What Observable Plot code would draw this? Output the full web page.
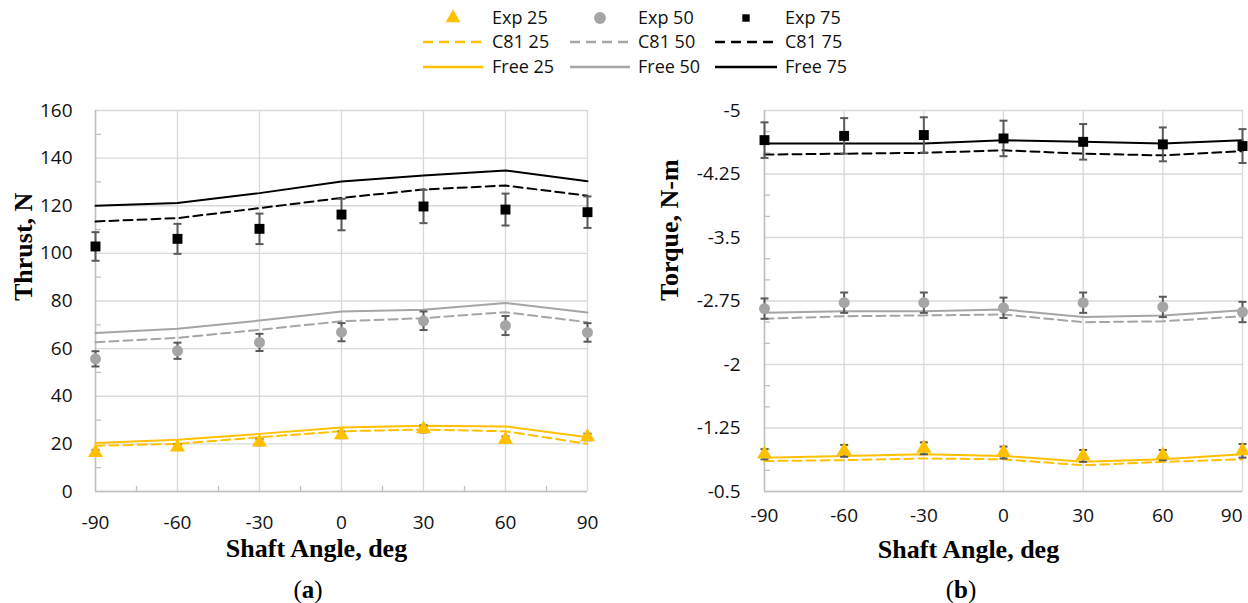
<!DOCTYPE html>
<html><head><meta charset="utf-8">
<script src="https://cdn.jsdelivr.net/npm/d3@7"></script>
<script src="https://cdn.jsdelivr.net/npm/@observablehq/plot@0.6"></script>
<style>
html,body{margin:0;padding:0;background:#fff;overflow:hidden;}
#root{position:relative;width:1248px;height:603px;overflow:hidden;}
#legend{position:absolute;left:0;top:0;}
#left{position:absolute;left:0;top:90px;}
#right{position:absolute;left:640px;top:90px;}
.cap{position:absolute;top:575px;font-family:"Liberation Serif",serif;font-size:25px;line-height:30px;transform:translateX(-50%);color:#000;}
</style></head><body>
<div id="root">
  <div id="legend"></div>
  <div id="left"></div>
  <div id="right"></div>
  <div class="cap" style="left:308px">(<b>a</b>)</div>
  <div class="cap" style="left:961px">(<b>b</b>)</div>
</div>
<script>
// ---- data ----
const angles = [-90, -60, -30, 0, 30, 60, 90];
const angleMinor = [-75, -45, -15, 15, 45, 75];

// Thrust (N)
const thrustExp25 = [16.3, 18.6, 20.7, 23.8, 26.3, 21.8, 22.9];
const thrustExp25Err = [1.2, 1.2, 1.3, 1.4, 1.5, 1.3, 1.4];
const thrustExp50 = [55.7, 59.1, 62.6, 66.9, 71.7, 69.7, 66.8];
const thrustExp50Err = [3.2, 3.4, 3.6, 3.8, 3.9, 4.0, 3.9];
const thrustExp75 = [102.9, 106.1, 110.3, 116.3, 119.7, 118.4, 117.3];
const thrustExp75Err = [6.0, 6.3, 6.4, 6.6, 7.0, 6.7, 6.6];
const thrustC81_25 = [19.2, 20.0, 22.8, 25.3, 26.0, 25.3, 20.0];
const thrustC81_50 = [62.7, 64.5, 67.9, 71.5, 72.8, 75.3, 71.1];
const thrustC81_75 = [113.4, 114.8, 119.0, 123.3, 126.8, 128.5, 124.2];
const thrustFree25 = [20.4, 21.7, 24.2, 26.9, 27.6, 27.3, 22.8];
const thrustFree50 = [66.6, 68.3, 71.8, 75.6, 76.3, 79.2, 75.2];
const thrustFree75 = [120.0, 121.2, 125.3, 130.2, 132.7, 134.8, 130.3];
const thrustTicks = [0, 20, 40, 60, 80, 100, 120, 140, 160];
const thrustMinor = [10, 30, 50, 70, 90, 110, 130, 150];

// Torque (N-m)
const torqueExp25 = [-0.94, -0.98, -1.01, -0.96, -0.92, -0.93, -0.98];
const torqueExp25Err = [0.06, 0.07, 0.07, 0.07, 0.07, 0.06, 0.08];
const torqueExp50 = [-2.66, -2.73, -2.73, -2.67, -2.73, -2.68, -2.62];
const torqueExp50Err = [0.12, 0.12, 0.12, 0.12, 0.12, 0.12, 0.12];
const torqueExp75 = [-4.65, -4.70, -4.71, -4.67, -4.63, -4.60, -4.58];
const torqueExp75Err = [0.21, 0.21, 0.21, 0.21, 0.21, 0.20, 0.20];
const torqueC81_25 = [-0.86, -0.87, -0.89, -0.88, -0.81, -0.85, -0.88];
const torqueC81_50 = [-2.54, -2.57, -2.58, -2.59, -2.50, -2.51, -2.57];
const torqueC81_75 = [-4.48, -4.49, -4.50, -4.53, -4.49, -4.47, -4.52];
const torqueFree25 = [-0.90, -0.92, -0.94, -0.92, -0.85, -0.88, -0.94];
const torqueFree50 = [-2.61, -2.63, -2.63, -2.65, -2.56, -2.58, -2.64];
const torqueFree75 = [-4.61, -4.61, -4.61, -4.65, -4.63, -4.61, -4.65];
const torqueTicks = [-5, -4.25, -3.5, -2.75, -2, -1.25, -0.5];
const torqueMinor = [-4.75, -4.5, -4, -3.75, -3.25, -3, -2.5, -2.25, -1.75, -1.5, -1, -0.75];

const seriesNames = ["25", "50", "75"];

// ---- styles ----
const colors = ["#FFC000", "#A5A5A5", "#000000"];
const symbols = [d3.symbolTriangle, d3.symbolCircle, d3.symbolSquare];
const symR = [5.6, 5.5, 5.6];
const gridColor = "#D9D9D9";
const axisColor = "#BFBFBF";
const errColor = "#595959";
const dash = "9,5";
const sans = '"Open Sans", sans-serif';
const serif = '"Liberation Serif", "Times New Roman", serif';

const rows = (vals, errs) => angles.map((a, i) => ({a, v: vals[i], e: errs ? errs[i] : 0}));
const capSymbol = {draw(ctx, size) { const h = Math.sqrt(size / Math.PI); ctx.moveTo(-h, 0); ctx.lineTo(h, 0); }};
const tickShape = {draw(ctx, l) { ctx.moveTo(0, 0); ctx.lineTo(0, -l); }};

function seriesMarks(exp, err, c81, free) {
  const m = [];
  for (let k = 0; k < 3; k++) {
    m.push(Plot.line(rows(c81[k]), {x: "a", y: "v", stroke: colors[k], strokeWidth: 2, strokeDasharray: dash}));
    m.push(Plot.line(rows(free[k]), {x: "a", y: "v", stroke: colors[k], strokeWidth: 2}));
  }
  for (let k = 0; k < 3; k++) {
    const d = rows(exp[k], err[k]);
    m.push(Plot.ruleX(d, {x: "a", y1: r => r.v - r.e, y2: r => r.v + r.e, stroke: errColor, strokeWidth: 2}));
    m.push(Plot.dot(d, {x: "a", y: r => r.v + r.e, symbol: capSymbol, r: 4, stroke: errColor, strokeWidth: 2, fill: "none"}));
    m.push(Plot.dot(d, {x: "a", y: r => r.v - r.e, symbol: capSymbol, r: 4, stroke: errColor, strokeWidth: 2, fill: "none"}));
    m.push(Plot.dot(d, {x: "a", y: "v", symbol: symbols[k], r: symR[k], fill: colors[k], stroke: "none"}));
  }
  return m;
}

const commonStyle = {fontFamily: sans, fontSize: "19px", color: "#111", background: "transparent", overflow: "visible"};
const fmt = d => String(d);

// ---- left chart ----
const left = Plot.plot({
  width: 620, height: 500,
  marginLeft: 95, marginRight: 33, marginTop: 20, marginBottom: 99,
  x: {domain: [angles[0], angles[angles.length - 1]]},
  y: {domain: [thrustTicks[0], thrustTicks[thrustTicks.length - 1]]},
  style: commonStyle,
  marks: [
    Plot.gridY(thrustTicks, {stroke: gridColor, strokeOpacity: 1, strokeWidth: 1.3}),
    Plot.gridX(angles, {stroke: gridColor, strokeOpacity: 1, strokeWidth: 1.3}),
    Plot.ruleX([angles[0]], {stroke: axisColor, strokeWidth: 1.5}),
    Plot.ruleY([thrustTicks[0]], {stroke: axisColor, strokeWidth: 1.5}),
    Plot.vector(thrustMinor, {x: () => angles[0], y: d => d, length: 5, rotate: 90, anchor: "start", shape: tickShape, stroke: axisColor, strokeWidth: 1.3}),
    Plot.vector(angleMinor, {x: d => d, y: () => thrustTicks[0], length: 5, rotate: 0, anchor: "start", shape: tickShape, stroke: axisColor, strokeWidth: 1.3}),
    Plot.axisY(thrustTicks, {tickSize: 0, tickPadding: 23, tickFormat: fmt, label: null, fontSize: 19}),
    Plot.axisX(angles, {tickSize: 0, tickPadding: 24, tickFormat: fmt, label: null, fontSize: 19}),
    ...seriesMarks([thrustExp25, thrustExp50, thrustExp75], [thrustExp25Err, thrustExp50Err, thrustExp75Err],
                   [thrustC81_25, thrustC81_50, thrustC81_75], [thrustFree25, thrustFree50, thrustFree75]),
    Plot.text(["Thrust, N"], {frameAnchor: "left", rotate: -90, dx: -72, fontFamily: serif, fontWeight: "bold", fontSize: 26, fill: "#000"}),
    Plot.text(["Shaft Angle, deg"], {frameAnchor: "bottom", dy: 57, dx: -25, lineAnchor: "middle", fontFamily: serif, fontWeight: "bold", fontSize: 26, fill: "#000"})
  ]
});
document.getElementById("left").append(left);

// ---- right chart ----
const right = Plot.plot({
  width: 608, height: 500,
  marginLeft: 124, marginRight: 6, marginTop: 20, marginBottom: 99,
  x: {domain: [angles[0], angles[angles.length - 1]]},
  y: {domain: [torqueTicks[torqueTicks.length - 1], torqueTicks[0]]},
  style: commonStyle,
  marks: [
    Plot.gridY(torqueTicks, {stroke: gridColor, strokeOpacity: 1, strokeWidth: 1.3}),
    Plot.gridX(angles, {stroke: gridColor, strokeOpacity: 1, strokeWidth: 1.3}),
    Plot.ruleX([angles[0]], {stroke: axisColor, strokeWidth: 1.5}),
    Plot.ruleY([torqueTicks[torqueTicks.length - 1]], {stroke: axisColor, strokeWidth: 1.5}),
    Plot.vector(torqueMinor, {x: () => angles[0], y: d => d, length: 5, rotate: 90, anchor: "start", shape: tickShape, stroke: axisColor, strokeWidth: 1.3}),
    Plot.axisY(torqueTicks, {tickSize: 0, tickPadding: 24, tickFormat: fmt, label: null, fontSize: 19}),
    Plot.axisX(angles.slice(0, -1), {tickSize: 0, tickPadding: 17, tickFormat: fmt, label: null, fontSize: 19}),
    Plot.axisX(angles.slice(-1), {tickSize: 0, tickPadding: 17, tickFormat: fmt, label: null, fontSize: 19, textAnchor: "end"}),
    ...seriesMarks([torqueExp25, torqueExp50, torqueExp75], [torqueExp25Err, torqueExp50Err, torqueExp75Err],
                   [torqueC81_25, torqueC81_50, torqueC81_75], [torqueFree25, torqueFree50, torqueFree75]),
    Plot.text(["Torque, N-m"], {frameAnchor: "left", rotate: -90, dx: -95, fontFamily: serif, fontWeight: "bold", fontSize: 26, fill: "#000"}),
    Plot.text(["Shaft Angle, deg"], {frameAnchor: "bottom", dy: 58, dx: -35, lineAnchor: "middle", fontFamily: serif, fontWeight: "bold", fontSize: 26, fill: "#000"})
  ]
});
document.getElementById("right").append(right);

// ---- legend ----
const lg = d3.select("#legend").append("svg").attr("width", 1248).attr("height", 85)
  .style("font-family", sans).style("font-size", "18px");
const cols = [{x0: 423, x1: 483, tx: 492}, {x0: 570, x1: 630, tx: 638}, {x0: 715, x1: 777, tx: 785}];
const rowY = [18, 42, 67];
const legSize = [95, 110, 55];
cols.forEach((c, k) => {
  const mid = (c.x0 + c.x1) / 2;
  lg.append("path").attr("d", d3.symbol().type(symbols[k]).size(legSize[k])())
    .attr("transform", `translate(${mid},${rowY[0]})`).attr("fill", colors[k]);
  lg.append("line").attr("x1", c.x0).attr("x2", c.x1).attr("y1", rowY[1]).attr("y2", rowY[1])
    .attr("stroke", colors[k]).attr("stroke-width", 2.5).attr("stroke-dasharray", "10,6");
  lg.append("line").attr("x1", c.x0).attr("x2", c.x1).attr("y1", rowY[2]).attr("y2", rowY[2])
    .attr("stroke", colors[k]).attr("stroke-width", 2.5);
  ["Exp ", "C81 ", "Free "].forEach((p, r) => {
    lg.append("text").attr("x", c.tx).attr("y", rowY[r]).attr("dy", "0.35em").attr("fill", "#111")
      .text(p + seriesNames[k]);
  });
});
</script>
</body></html>
